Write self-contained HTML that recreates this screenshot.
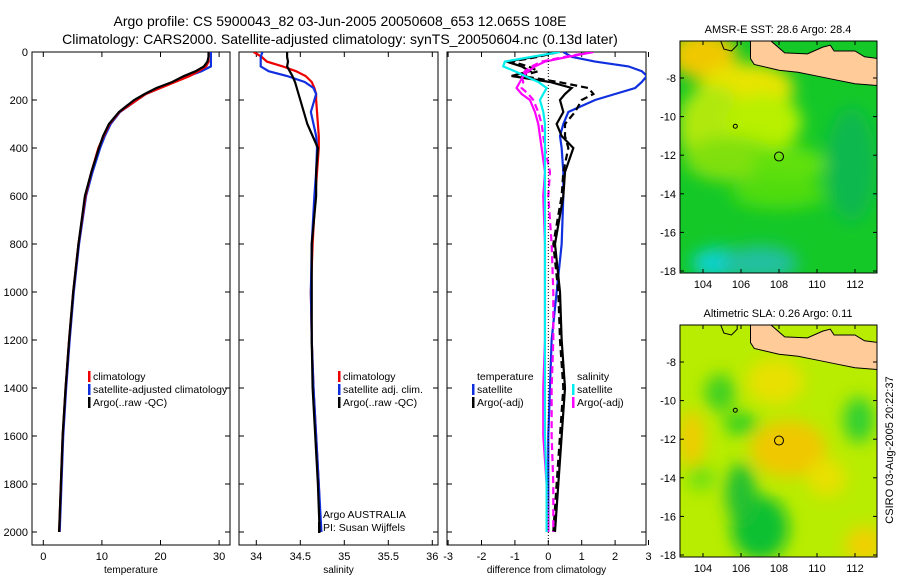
<!DOCTYPE html>
<html><head><meta charset="utf-8"><style>
body{margin:0;background:#fff}
svg{display:block;font-family:"Liberation Sans",sans-serif}
</style></head><body>
<svg id="c" width="900" height="580" viewBox="0 0 900 580">
<defs>
<filter id="bl" x="-20%" y="-20%" width="140%" height="140%"><feGaussianBlur stdDeviation="8"/></filter>
<clipPath id="m1c"><rect x="680" y="41" width="197" height="232"/></clipPath>
<clipPath id="m2c"><rect x="680" y="325" width="197" height="232"/></clipPath>
<clipPath id="p1c"><rect x="32" y="52" width="198" height="493"/></clipPath>
<clipPath id="p2c"><rect x="239" y="52" width="199" height="493"/></clipPath>
<clipPath id="p3c"><rect x="447" y="52" width="199" height="493"/></clipPath>
</defs>
<text x="340" y="26" font-size="14" text-anchor="middle">Argo profile: CS 5900043_82 03-Jun-2005 20050608_653 12.065S 108E</text>
<text x="340" y="44" font-size="14" text-anchor="middle">Climatology: CARS2000. Satellite-adjusted climatology: synTS_20050604.nc (0.13d later)</text>
<g id="g"></g>
<text transform="translate(893,450) rotate(-90)" font-size="11" text-anchor="middle">CSIRO 03-Aug-2005 20:22:37</text>
</svg>
<script>
const depth=[0,20,40,60,80,100,125,150,175,200,250,300,350,400,500,600,800,1000,1200,1400,1600,1800,2000];
const tempClim=[28.2,28.2,28.2,27.8,26.5,25,22.5,20,17.5,16,13,11.3,10.3,9.4,8.2,7.2,6.0,5.1,4.4,3.8,3.3,3.0,2.7];
const tempSat=[28.6,28.6,28.6,28.6,27,24.8,22.3,19.9,17.5,16,13.1,11.5,10.5,9.7,8.4,7.3,6.1,5.2,4.5,3.9,3.4,3.1,2.8];
const tempArgo=[28.2,28.2,28.0,27.4,26,24,22,19.3,17.3,15.5,12.9,11.2,10.2,9.5,8.2,7.1,6.0,5.1,4.4,3.8,3.3,3.0,2.7];
const salClim=[33.97,34.06,34.12,34.3,34.45,34.56,34.63,34.66,34.68,34.68,34.69,34.7,34.71,34.71,34.69,34.67,34.64,34.62,34.63,34.65,34.68,34.71,34.73];
const salSat=[34.07,34.05,34.05,34.05,34.14,34.35,34.55,34.65,34.68,34.66,34.62,34.65,34.68,34.69,34.68,34.66,34.63,34.62,34.63,34.65,34.68,34.71,34.74];
const salArgo=[34.35,34.35,34.36,34.35,34.38,34.41,34.44,34.46,34.48,34.5,34.54,34.58,34.64,34.7,34.68,34.68,34.63,34.63,34.63,34.64,34.67,34.7,34.72];
const dTempSat=[0.45,0.7,1.4,2.4,2.8,2.95,2.8,2.6,2.0,1.4,0.6,0.45,0.35,0.4,0.45,0.45,0.4,0.25,0.1,0.05,0,0,0];
const dTempArgo=[0.3,-0.4,-1.25,-0.8,-0.55,-1.1,0.05,0.7,0.5,0.35,0.45,0.25,0.4,0.75,0.5,0.45,0.2,0.35,0.4,0.5,0.4,0.3,0.2];
const dTempArgoAdj=[0.3,-0.3,-1.1,-0.6,-0.3,-0.8,0.3,1.2,1.35,1.0,0.8,0.5,0.5,0.6,0.45,0.4,0.15,0.3,0.35,0.45,0.35,0.25,0.15];
const dSalSat=[0.35,-0.5,-1.3,-1.35,-1.0,-0.7,-0.3,-0.05,-0.15,-0.25,-0.15,-0.1,-0.1,-0.1,-0.1,-0.1,-0.1,-0.1,-0.1,-0.1,-0.1,-0.05,-0.05];
const dSalArgo=[1.35,0.6,-0.1,-0.4,-0.6,-0.75,-0.85,-0.95,-0.8,-0.55,-0.4,-0.3,-0.25,-0.2,-0.1,-0.15,-0.1,-0.1,-0.1,-0.15,-0.15,-0.05,0];
const dSalArgoAdj=[1.3,0.5,-0.2,-0.5,-0.7,-0.8,-0.75,-0.8,-0.6,-0.45,-0.3,-0.2,-0.15,-0.1,0.05,0,0.1,0.15,0.15,0.1,0.1,0.15,0.15];
const depthTicks=[0,200,400,600,800,1000,1200,1400,1600,1800,2000];
const tempTicks=[0,10,20,30];
const salTicks=[34,34.5,35,35.5,36];
const diffTicks=[-3,-2,-1,0,1,2,3];
const latTicks=[-8,-10,-12,-14,-16,-18];
const lonTicks=[104,106,108,110,112];

const NS='http://www.w3.org/2000/svg';
const G=document.getElementById('g');
function mk(t,a,p){const e=document.createElementNS(NS,t);for(const k in a)e.setAttribute(k,a[k]);(p||G).appendChild(e);return e;}
const yD=d=>52+d*0.24;

function panel(id,x0,x1,xs,ticks,label,series,clip){
  const g=mk('g',{});
  
  
  mk('rect',{x:x0,y:52,width:x1-x0,height:493,fill:'#fff',stroke:'#000','stroke-width':1},g);
  depthTicks.forEach(d=>{const y=yD(d);mk('line',{x1:x0,x2:x0+5,y1:y,y2:y,stroke:'#000'},g);mk('line',{x1:x1-5,x2:x1,y1:y,y2:y,stroke:'#000'},g);
    if(x0<40){const t=mk('text',{x:x0-4,y:y+4,'font-size':11,'text-anchor':'end'},g);t.textContent=d;}});
  ticks.forEach(v=>{const x=xs(v);mk('line',{x1:x,x2:x,y1:545,y2:540,stroke:'#000'},g);mk('line',{x1:x,x2:x,y1:52,y2:57,stroke:'#000'},g);
    const t=mk('text',{x:x,y:560,'font-size':11,'text-anchor':'middle'},g);t.textContent=v;});
  const lt=mk('text',{x:(x0+x1)/2,y:573,'font-size':10,'text-anchor':'middle'},g);lt.textContent=label;
  const sg=mk('g',{'clip-path':'url(#'+clip+')'},g);
  series.forEach(s=>{const p=mk('polyline',{points:s.v.map((v,i)=>xs(v)+','+yD(depth[i])).join(' '),fill:'none',stroke:s.c,'stroke-width':s.w||2.2,'stroke-dasharray':s.d||'none'},sg);
    });
  return g;
}
const xT=v=>43.3+v*5.86, xS=v=>256.3+(v-34)*88, xF=v=>548.3+v*33.4;
panel('temperature-panel',32,230,xT,tempTicks,'temperature',[
 {v:tempSat,c:'#1030e0',n:'temp-satellite-line'},{v:tempClim,c:'#e00',n:'temp-climatology-line'},{v:tempArgo,c:'#000',n:'temp-argo-line'}],'p1c');
panel('salinity-panel',239,438,xS,salTicks,'salinity',[
 {v:salClim,c:'#e00',n:'sal-climatology-line'},{v:salSat,c:'#1030e0',n:'sal-satellite-line'},{v:salArgo,c:'#000',n:'sal-argo-line'}],'p2c');
const p3=panel('difference-panel',447,646,xF,diffTicks,'difference from climatology',[
 {v:dTempSat,c:'#1030e0',n:'diff-temp-satellite-line'},{v:dTempArgo,c:'#000',n:'diff-temp-argo-line'},
 {v:dTempArgoAdj,c:'#000',d:'7,4',n:'diff-temp-argo-adj-line'},{v:dSalArgo,c:'#f0f',n:'diff-sal-argo-line'},
 {v:dSalArgoAdj,c:'#f0f',d:'7,4',n:'diff-sal-argo-adj-line'},{v:dSalSat,c:'#0ee',n:'diff-sal-satellite-line'}],'p3c');
mk('line',{x1:xF(0),x2:xF(0),y1:52,y2:545,stroke:'#000','stroke-dasharray':'1,2'},p3);

function legend(id,x,y,items){const g=mk('g',{});
 items.forEach((it,i)=>{const yy=y+i*13;if(it.c)mk('rect',{x:x,y:yy-9,width:2.5,height:11,fill:it.c},g);
 const t=mk('text',{x:x+5,y:yy,'font-size':10.5},g);t.textContent=it.t;});}
legend('temp-legend',88,380,[{c:'#e00',t:'climatology'},{c:'#1030e0',t:'satellite-adjusted climatology'},{c:'#000',t:'Argo(..raw -QC)'}]);
legend('sal-legend',338,380,[{c:'#e00',t:'climatology'},{c:'#1030e0',t:'satellite adj. clim.'},{c:'#000',t:'Argo(..raw -QC)'}]);
legend('diff-legend-temp',472,380,[{t:'temperature'},{c:'#1030e0',t:'satellite'},{c:'#000',t:'Argo(-adj)'}]);
legend('diff-legend-sal',572,380,[{t:'salinity'},{c:'#0ee',t:'satellite'},{c:'#f0f',t:'Argo(-adj)'}]);
legend('float-info',318,518,[{t:'Argo AUSTRALIA'},{c:'#000',t:'PI: Susan Wijffels'}]);

const mx=l=>703+(l-104)*19, my=(la,o)=>78+o+(-8-la)*19.3;
const landPts=[[106.5,-6],[106.5,-7.0],[106.7,-7.3],[108,-7.6],[109,-7.7],[110,-7.9],[111,-8.1],[112,-8.3],[113.3,-8.4],[113.3,-7.0],[112.5,-6.9],[112,-6.6],[110.9,-6.6],[110.7,-6.3],[110.3,-6.4],[109.5,-6.75],[108.3,-6.7],[107.6,-6.1],[107.5,-6]];
function map(id,off,title,bg,blobs,clip){
 const g=mk('g',{});
 const t=mk('text',{x:778,y:off+33,'font-size':11,'text-anchor':'middle'},g);t.textContent=title;
 const cg=mk('g',{'clip-path':'url(#'+clip+')'},g);
 mk('rect',{x:680,y:41+off,width:197,height:232,fill:bg},cg);
 const bgp=mk('g',{filter:'url(#bl)'},cg);
 blobs.forEach(b=>mk('ellipse',{cx:mx(b[0]),cy:my(b[1],off),rx:b[2]*19,ry:b[3]*19,fill:b[4]},bgp));
 const land=mk('polygon',{points:landPts.map(p=>mx(p[0])+','+my(p[1],off)).join(' '),fill:'#ffcc99',stroke:'#000','stroke-width':1},cg);
 
 mk('polyline',{points:[[104.9,-6],[105.1,-6.5],[105.5,-6.6],[105.8,-6.3],[105.8,-6]].map(p=>mx(p[0])+','+my(p[1],off)).join(' '),fill:'none',stroke:'#000'},cg);
 mk('circle',{cx:mx(105.7),cy:my(-10.5,off),r:2,fill:'none',stroke:'#000'},cg);
 const c=mk('circle',{cx:mx(108),cy:my(-12.07,off),r:4.5,fill:'none',stroke:'#000'},g);
 
 mk('rect',{x:680,y:41+off,width:197,height:232,fill:'none',stroke:'#000'},g);
 latTicks.forEach(la=>{const y=my(la,off);mk('line',{x1:680,x2:684,y1:y,y2:y,stroke:'#000'},g);mk('line',{x1:873,x2:877,y1:y,y2:y,stroke:'#000'},g);
  const tt=mk('text',{x:676,y:y+4,'font-size':11,'text-anchor':'end'},g);tt.textContent=la;});
 lonTicks.forEach(lo=>{const x=mx(lo);mk('line',{x1:x,x2:x,y1:273+off,y2:269+off,stroke:'#000'},g);mk('line',{x1:x,x2:x,y1:41+off,y2:45+off,stroke:'#000'},g);
  const tt=mk('text',{x:x,y:288+off,'font-size':11,'text-anchor':'middle'},g);tt.textContent=lo;});
}
map('sst-map',0,'AMSR-E SST: 28.6 Argo: 28.4','#14c828',[
 [104,-6.8,1.8,1.3,'#f0c800'],[106.3,-8.5,2.5,1.3,'#e8e400'],[104.5,-10.5,1.8,2.2,'#b0e810'],[107.2,-10.3,2,1.5,'#b8f000'],
 [105.5,-12.2,2.5,1.2,'#80e010'],[108.5,-12.5,2,1,'#60e010'],[108,-14,2.5,0.8,'#50dc10'],[111.8,-12.5,1.3,3,'#10b850'],[104.8,-17.6,1.4,0.8,'#10d0d0'],[107,-17.6,2,0.9,'#20c0a0']],'m1c');
map('sla-map',284,'Altimetric SLA: 0.26 Argo: 0.11','#b8ec00',[
 [108.5,-12.5,2,1.5,'#f0c800'],[107.8,-9,1.5,1.2,'#e8e000'],[103.4,-12,0.7,1.5,'#f0cc00'],[112.5,-17.5,1,1,'#f0d000'],[110.5,-14,1,1,'#e8e000'],
 [107,-16.6,1.5,1.7,'#10c030'],[106,-14.8,0.8,1.6,'#20c030'],[104.9,-9.6,0.8,1,'#40d020'],[106,-11.2,0.9,0.6,'#30d020'],[112.2,-11,0.8,1.2,'#30d030'],[103.9,-14,0.7,0.7,'#70e010']],'m2c');
</script>
</body></html>
